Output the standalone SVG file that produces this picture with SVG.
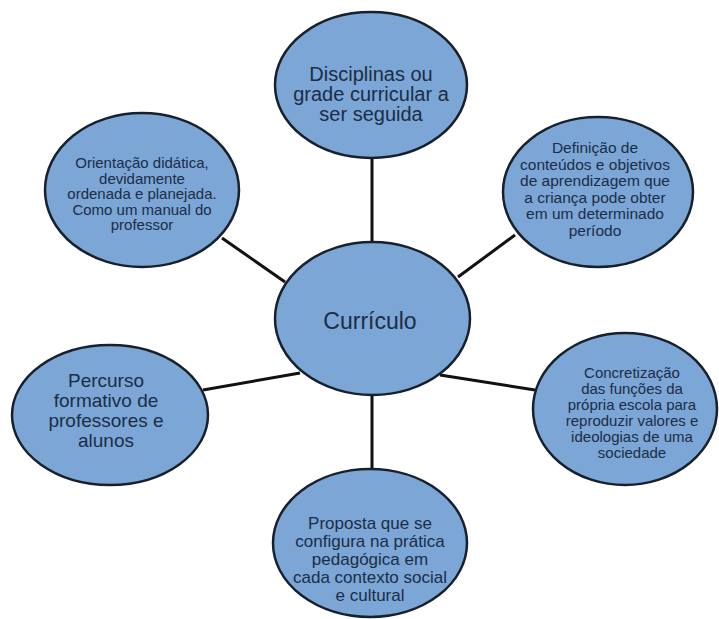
<svg xmlns="http://www.w3.org/2000/svg" width="719" height="619" viewBox="0 0 719 619">
  <style>
    .node { fill: #7ba6d6; stroke: #17202b; stroke-width: 2.5; }
    .edge { stroke: #111111; stroke-width: 3; fill: none; }
    text { font-family: "Liberation Sans", Arial, sans-serif; fill: #1c2d45; text-anchor: middle; }
    .s { font-size: 15px; }
    .s2 { font-size: 15.5px; }
    .m { font-size: 17px; }
    .m2 { font-size: 19px; }
    .l { font-size: 20px; }
    .xl { font-size: 23px; }
  </style>
  <rect width="719" height="619" fill="#ffffff"/>
  <g id="connectors">
    <line class="edge" x1="372" y1="158" x2="372" y2="242"/>
    <line class="edge" x1="372" y1="395" x2="372" y2="469"/>
    <line class="edge" x1="222" y1="238" x2="285" y2="282"/>
    <line class="edge" x1="458" y1="277" x2="515" y2="235"/>
    <line class="edge" x1="203" y1="390" x2="300" y2="373"/>
    <line class="edge" x1="440" y1="375" x2="535" y2="390"/>
  </g>
  <g id="node-disciplinas">
    <ellipse class="node" cx="371" cy="85" rx="96" ry="73"/>
    <text class="l" x="371" y="81">Disciplinas ou</text>
    <text class="l" x="371" y="101">grade curricular a</text>
    <text class="l" x="371" y="121">ser seguida</text>
  </g>
  <g id="node-orientacao">
    <ellipse class="node" cx="142" cy="190" rx="97" ry="77"/>
    <text class="s" x="142" y="168">Orientação didática,</text>
    <text class="s" x="142" y="183.5">devidamente</text>
    <text class="s" x="142" y="199">ordenada e planejada.</text>
    <text class="s" x="142" y="214.5">Como um manual do</text>
    <text class="s" x="142" y="230">professor</text>
  </g>
  <g id="node-definicao">
    <ellipse class="node" cx="598" cy="192" rx="95" ry="75"/>
    <text class="s2" x="595" y="153">Definição de</text>
    <text class="s2" x="595" y="169.5">conteúdos e objetivos</text>
    <text class="s2" x="595" y="186">de aprendizagem que</text>
    <text class="s2" x="595" y="202.5">a criança pode obter</text>
    <text class="s2" x="595" y="219">em um determinado</text>
    <text class="s2" x="595" y="235.5">período</text>
  </g>
  <g id="node-curriculo">
    <ellipse class="node" cx="372.5" cy="318.5" rx="97.5" ry="76.5"/>
    <text class="xl" x="370" y="329">Currículo</text>
  </g>
  <g id="node-percurso">
    <ellipse class="node" cx="110" cy="415" rx="98" ry="70"/>
    <text class="m2" x="106" y="387">Percurso</text>
    <text class="m2" x="106" y="407">formativo de</text>
    <text class="m2" x="106" y="427">professores e</text>
    <text class="m2" x="106" y="447">alunos</text>
  </g>
  <g id="node-concretizacao">
    <ellipse class="node" cx="625" cy="409" rx="92" ry="76"/>
    <text class="s" x="632" y="378">Concretização</text>
    <text class="s" x="632" y="394">das funções da</text>
    <text class="s" x="632" y="410">própria escola para</text>
    <text class="s" x="632" y="426">reproduzir valores e</text>
    <text class="s" x="632" y="442">ideologias de uma</text>
    <text class="s" x="632" y="458">sociedade</text>
  </g>
  <g id="node-proposta">
    <ellipse class="node" cx="370" cy="543" rx="97" ry="74"/>
    <text class="m" x="370" y="529">Proposta que se</text>
    <text class="m" x="370" y="547">configura na prática</text>
    <text class="m" x="370" y="565">pedagógica em</text>
    <text class="m" x="370" y="583">cada contexto social</text>
    <text class="m" x="370" y="601">e cultural</text>
  </g>
</svg>
